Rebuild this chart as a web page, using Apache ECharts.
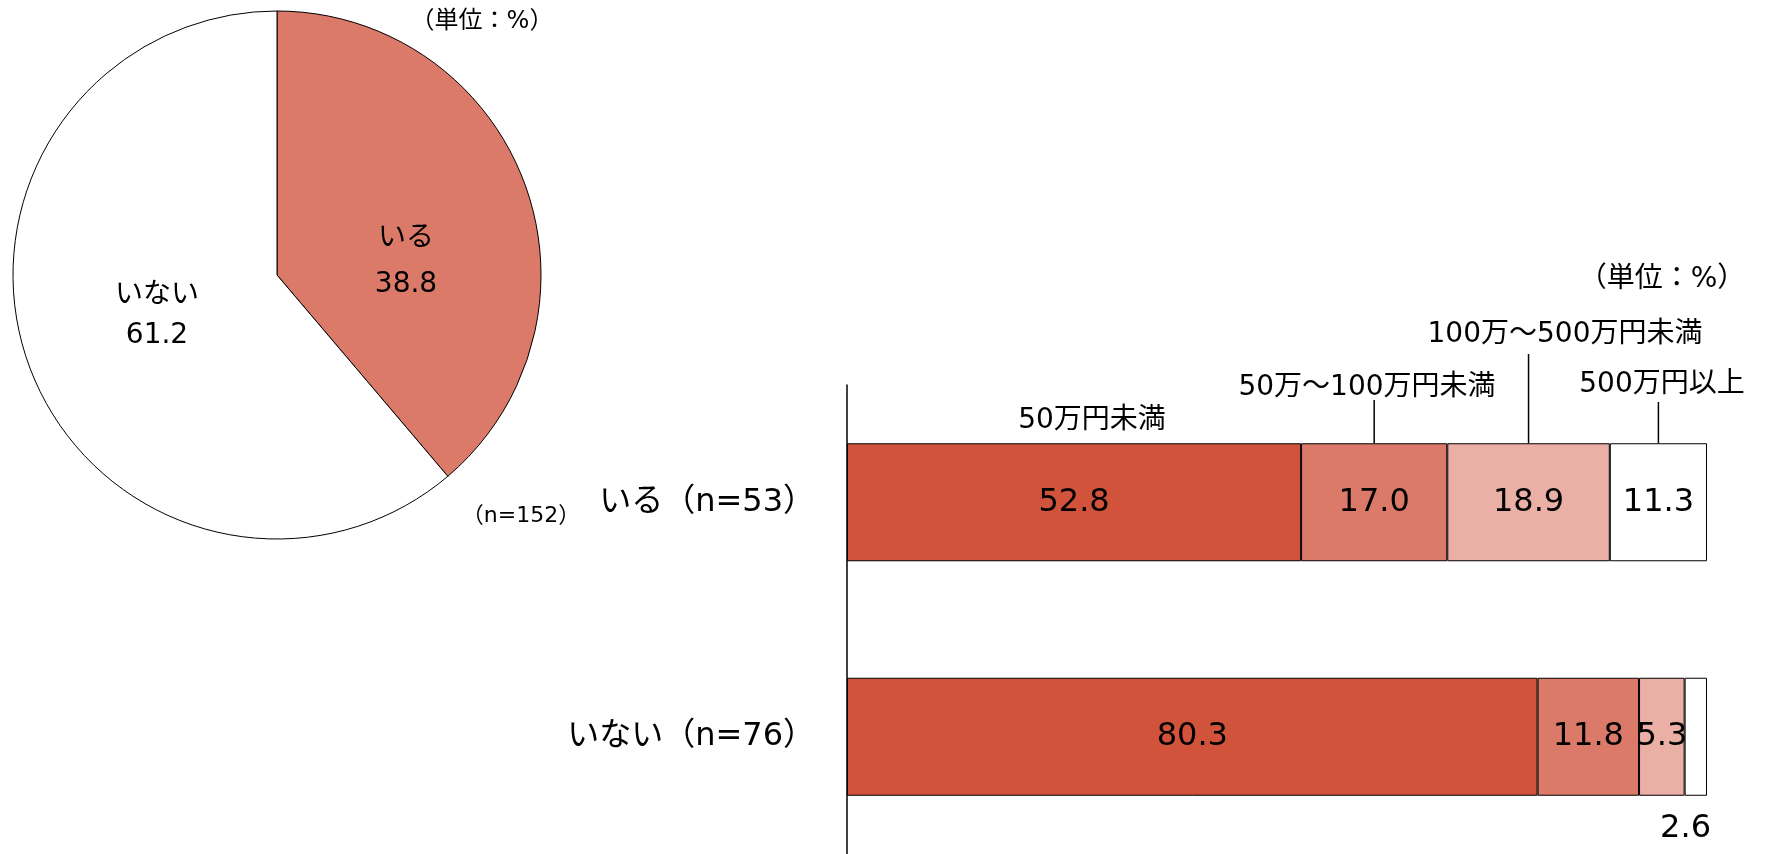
<!DOCTYPE html>
<html lang="ja">
<head>
<meta charset="utf-8">
<title>いる・いない</title>
<script src="https://cdn.jsdelivr.net/npm/echarts@6/dist/echarts.min.js"></script>
<style>
  html, body { margin: 0; padding: 0; background: #ffffff; }
  #chart { width: 1767px; height: 854px; }
</style>
</head>
<body>
<div id="chart"></div>
<script>
// Pie: share of respondents
const pieNames = ['いる', 'いない'];
const pieValues = [38.8, 61.2];
const pieColors = ['#DC7A6A', '#FFFFFF'];

// Stacked bars: amount bands per group (%)
const barCategories = ['いる（n=53）', 'いない（n=76）'];
const segmentNames = ['50万円未満', '50万～100万円未満', '100万～500万円未満', '500万円以上'];
const under50 = [52.8, 80.3];
const from50to100 = [17.0, 11.8];
const from100to500 = [18.9, 5.3];
const over500 = [11.3, 2.6];
const segmentColors = ['#D1533B', '#DC7A6A', '#EAB0A6', '#FFFFFF'];

const FONT = '"DejaVu Sans", "Noto Sans CJK JP", sans-serif';
const BAR_WIDTH = 118;

const chart = echarts.init(document.getElementById('chart'), null, { renderer: 'canvas' });

// label anchor points and line spacing for the two pie slices
const pieLabelPos = [[406, 262], [157, 316]];
const pieLabelLine = [46, 40];

function segmentData(values) {
  return values.map(v => {
    if (v < 4) {
      // too thin to hold its value: put the number under the bar end
      return {
        value: v,
        label: {
          position: ['100%', '100%'],
          align: 'right',
          verticalAlign: 'top',
          offset: [4, 17]
        }
      };
    }
    return v;
  });
}

const seriesValues = [under50, from50to100, from100to500, over500];

const barSeries = seriesValues.map((vals, i) => ({
  type: 'bar',
  name: segmentNames[i],
  stack: 'total',
  barWidth: BAR_WIDTH,
  data: segmentData(vals),
  itemStyle: { color: segmentColors[i], borderColor: '#000', borderWidth: 1 },
  label: {
    show: true,
    position: 'inside',
    color: '#000',
    fontSize: 32,
    fontFamily: FONT,
    formatter: p => Number(p.value).toFixed(1)
  },
  emphasis: { disabled: true }
}));

chart.setOption({
  animation: false,
  backgroundColor: '#ffffff',
  grid: { left: 847, right: 60, top: 385, height: 471 },
  xAxis: { type: 'value', min: 0, max: 100, show: false },
  yAxis: {
    type: 'category',
    inverse: true,
    data: barCategories,
    axisLine: { show: true, lineStyle: { color: '#000', width: 1.5 } },
    axisTick: { show: false },
    splitLine: { show: false },
    axisLabel: { color: '#000', fontSize: 32, fontFamily: FONT, margin: 32 }
  },
  series: [
    {
      type: 'pie',
      center: [277, 275],
      radius: 264,
      startAngle: 90,
      clockwise: true,
      data: pieNames.map((n, i) => ({
        name: n,
        value: pieValues[i],
        itemStyle: { color: pieColors[i] },
        label: { lineHeight: pieLabelLine[i] }
      })),
      itemStyle: { borderColor: '#000', borderWidth: 1 },
      label: {
        show: true,
        position: 'inside',
        color: '#000',
        fontSize: 28,
        fontFamily: FONT,
        formatter: p => p.name + '\n' + p.value.toFixed(1)
      },
      labelLine: { show: false },
      labelLayout: p => ({
        x: pieLabelPos[p.dataIndex][0],
        y: pieLabelPos[p.dataIndex][1],
        align: 'center',
        verticalAlign: 'middle'
      }),
      emphasis: { disabled: true }
    },
    ...barSeries
  ]
});

// Segment names above the first bar, with leader lines to segments 2-4
const barTop = chart.convertToPixel({ yAxisIndex: 0 }, 0) - BAR_WIDTH / 2;
const firstRow = seriesValues.map(v => v[0]);
const centers = [];
let acc = 0;
firstRow.forEach(v => {
  centers.push(chart.convertToPixel({ xAxisIndex: 0 }, acc + v / 2));
  acc += v;
});

const nameSpots = [[1092, 421], [1367, 388], [1565, 335], [1662, 385]];
const leaderTops = [null, 400, 354, 402];

function textEl(text, x, y, size) {
  return {
    type: 'text',
    silent: true,
    style: {
      text: text,
      x: x,
      y: y,
      textAlign: 'center',
      textVerticalAlign: 'middle',
      font: size + 'px ' + FONT,
      fill: '#000'
    }
  };
}

const graphics = [];
segmentNames.forEach((name, i) => {
  graphics.push(textEl(name, nameSpots[i][0], nameSpots[i][1], 28));
  if (leaderTops[i] !== null) {
    graphics.push({
      type: 'line',
      silent: true,
      shape: { x1: centers[i], y1: leaderTops[i], x2: centers[i], y2: barTop },
      style: { stroke: '#000', lineWidth: 1.5 }
    });
  }
});
graphics.push(textEl('（単位：%）', 1662, 280, 28));
graphics.push(textEl('（単位：%）', 482, 22, 24));
graphics.push(textEl('（n=152）', 521, 516, 22));

chart.setOption({ graphic: graphics });
</script>
</body>
</html>
